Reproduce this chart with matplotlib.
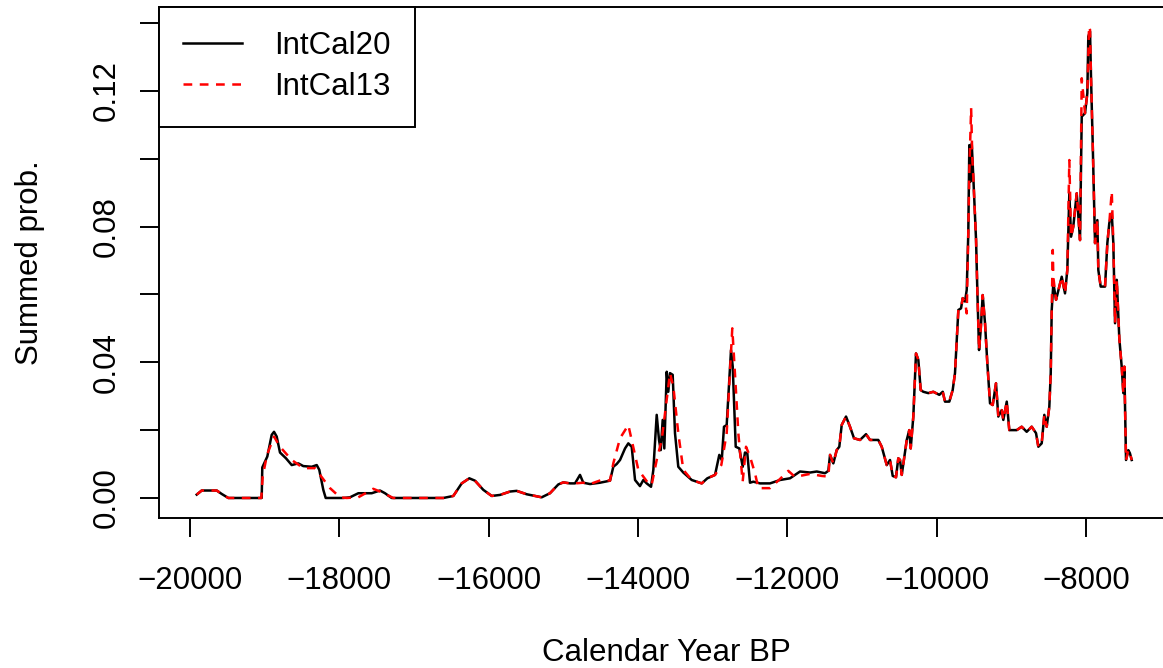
import matplotlib.pyplot as plt

# summed probability, IntCal20 calibration
year20 = [-19910, -19843, -19642, -19576, -19487, -19040, -19032, -18965, -18906, -18875,
          -18839, -18795, -18715, -18638, -18550, -18483, -18370, -18303, -18269, -18215,
          -18183, -17947, -17858, -17746, -17567, -17456, -17389, -17299, -16608, -16474,
          -16362, -16260, -16184, -16073, -15960, -15849, -15715, -15626, -15492, -15291,
          -15180, -15068, -15001, -14912, -14845, -14778, -14734, -14644, -14510, -14376,
          -14332, -14287, -14242, -14175, -14131, -14086, -14041, -13975, -13930, -13885,
          -13827, -13796, -13751, -13720, -13697, -13671, -13649, -13617, -13596, -13573,
          -13537, -13506, -13462, -13395, -13282, -13148, -13073, -12970, -12913, -12880,
          -12850, -12814, -12756, -12733, -12693, -12645, -12599, -12569, -12538, -12502,
          -12457, -12368, -12234, -12100, -11966, -11899, -11832, -11698, -11608, -11497,
          -11453, -11430, -11386, -11341, -11306, -11274, -11216, -11163, -11109, -11029,
          -10948, -10895, -10784, -10738, -10671, -10627, -10591, -10547, -10516, -10493,
          -10470, -10426, -10403, -10369, -10350, -10315, -10279, -10248, -10216, -10181,
          -10114, -10047, -9967, -9921, -9891, -9833, -9788, -9757, -9734, -9712,
          -9676, -9654, -9623, -9600, -9579, -9565, -9552, -9533, -9512, -9475,
          -9458, -9435, -9413, -9386, -9355, -9324, -9288, -9252, -9208, -9177,
          -9131, -9110, -9064, -9030, -8930, -8864, -8797, -8730, -8672, -8641,
          -8596, -8561, -8529, -8494, -8475, -8462, -8440, -8404, -8328, -8284,
          -8253, -8226, -8203, -8173, -8127, -8083, -8060, -8016, -7985, -7972,
          -7949, -7936, -7913, -7882, -7851, -7838, -7806, -7748, -7717, -7691,
          -7658, -7637, -7614, -7591, -7557, -7525, -7503, -7490, -7467, -7436,
          -7415, -7391]
prob20 = [0.0010, 0.0022, 0.0022, 0.0012, 0.0000, 0.0000, 0.0090, 0.0122, 0.0186, 0.0195,
          0.0181, 0.0134, 0.0117, 0.0097, 0.0102, 0.0094, 0.0092, 0.0097, 0.0083, 0.0024,
          0.0000, 0.0000, 0.0002, 0.0014, 0.0014, 0.0022, 0.0014, 0.0000, 0.0000, 0.0006,
          0.0043, 0.0058, 0.0051, 0.0024, 0.0006, 0.0009, 0.0019, 0.0021, 0.0011, 0.0002,
          0.0014, 0.0040, 0.0046, 0.0043, 0.0043, 0.0068, 0.0045, 0.0041, 0.0045, 0.0051,
          0.0092, 0.0100, 0.0112, 0.0146, 0.0161, 0.0151, 0.0053, 0.0035, 0.0053, 0.0043,
          0.0033, 0.0083, 0.0245, 0.0171, 0.0141, 0.0230, 0.0146, 0.0372, 0.0313, 0.0368,
          0.0363, 0.0191, 0.0092, 0.0075, 0.0053, 0.0043, 0.0058, 0.0068, 0.0127, 0.0112,
          0.0210, 0.0215, 0.0436, 0.0387, 0.0151, 0.0146, 0.0092, 0.0134, 0.0132, 0.0045,
          0.0048, 0.0043, 0.0043, 0.0053, 0.0058, 0.0068, 0.0078, 0.0075, 0.0078, 0.0073,
          0.0080, 0.0127, 0.0102, 0.0141, 0.0151, 0.0215, 0.0240, 0.0210, 0.0176, 0.0171,
          0.0188, 0.0171, 0.0171, 0.0151, 0.0097, 0.0112, 0.0065, 0.0061, 0.0117, 0.0112,
          0.0068, 0.0136, 0.0171, 0.0200, 0.0146, 0.0240, 0.0426, 0.0407, 0.0318, 0.0313,
          0.0309, 0.0313, 0.0304, 0.0313, 0.0284, 0.0284, 0.0318, 0.0368, 0.0466, 0.0554,
          0.0559, 0.0589, 0.0579, 0.0613, 0.0780, 0.1040, 0.0932, 0.1045, 0.0947, 0.0760,
          0.0613, 0.0436, 0.0495, 0.0598, 0.0515, 0.0397, 0.0279, 0.0274, 0.0338, 0.0240,
          0.0259, 0.0230, 0.0284, 0.0200, 0.0200, 0.0210, 0.0195, 0.0210, 0.0191, 0.0151,
          0.0161, 0.0245, 0.0210, 0.0269, 0.0368, 0.0554, 0.0633, 0.0584, 0.0652, 0.0603,
          0.0672, 0.0898, 0.0770, 0.0800, 0.0898, 0.0760, 0.1124, 0.1134, 0.1193, 0.1360,
          0.1375, 0.1242, 0.1045, 0.0751, 0.0819, 0.0672, 0.0623, 0.0623, 0.0751, 0.0810,
          0.0839, 0.0751, 0.0515, 0.0643, 0.0471, 0.0387, 0.0309, 0.0387, 0.0112, 0.0141,
          0.0132, 0.0112]

# summed probability, IntCal13 calibration
year13 = [-19910, -19843, -19642, -19576, -19487, -19045, -19027, -18969, -18875, -18795,
          -18638, -18483, -18326, -18259, -18125, -17991, -17902, -17746, -17546, -17456,
          -17278, -16608, -16474, -16362, -16260, -16184, -16073, -15960, -15849, -15715,
          -15626, -15492, -15291, -15180, -15068, -15001, -14912, -14845, -14734, -14644,
          -14466, -14376, -14332, -14242, -14131, -14086, -13997, -13863, -13819, -13751,
          -13684, -13617, -13573, -13528, -13462, -13395, -13282, -13148, -13073, -12970,
          -12886, -12814, -12739, -12693, -12658, -12600, -12555, -12502, -12435, -12390,
          -12234, -12100, -11989, -11899, -11698, -11542, -11453, -11430, -11386, -11341,
          -11306, -11274, -11216, -11163, -11109, -11029, -10948, -10895, -10784, -10738,
          -10671, -10627, -10591, -10547, -10516, -10493, -10470, -10426, -10403, -10369,
          -10350, -10315, -10279, -10248, -10216, -10181, -10114, -10047, -9967, -9921,
          -9891, -9833, -9788, -9757, -9734, -9712, -9676, -9654, -9623, -9600,
          -9579, -9565, -9541, -9525, -9512, -9475, -9458, -9435, -9413, -9386,
          -9355, -9324, -9288, -9252, -9208, -9177, -9131, -9110, -9064, -9030,
          -8930, -8864, -8797, -8730, -8672, -8641, -8596, -8561, -8529, -8494,
          -8475, -8462, -8448, -8440, -8404, -8328, -8284, -8253, -8226, -8203,
          -8173, -8127, -8083, -8060, -8016, -7985, -7962, -7949, -7936, -7913,
          -7882, -7851, -7838, -7806, -7748, -7717, -7691, -7658, -7637, -7614,
          -7591, -7557, -7525, -7503, -7490, -7467, -7436, -7415, -7391]
prob13 = [0.0010, 0.0022, 0.0022, 0.0012, 0.0000, 0.0000, 0.0063, 0.0127, 0.0181, 0.0151,
          0.0112, 0.0088, 0.0088, 0.0068, 0.0029, 0.0002, 0.0000, 0.0002, 0.0027, 0.0019,
          0.0000, 0.0000, 0.0006, 0.0043, 0.0058, 0.0051, 0.0024, 0.0006, 0.0009, 0.0019,
          0.0021, 0.0011, 0.0002, 0.0014, 0.0040, 0.0046, 0.0043, 0.0043, 0.0045, 0.0041,
          0.0055, 0.0051, 0.0102, 0.0176, 0.0215, 0.0171, 0.0083, 0.0043, 0.0038, 0.0112,
          0.0171, 0.0289, 0.0368, 0.0328, 0.0191, 0.0083, 0.0053, 0.0043, 0.0058, 0.0068,
          0.0097, 0.0191, 0.0500, 0.0328, 0.0191, 0.0048, 0.0151, 0.0122, 0.0073, 0.0029,
          0.0029, 0.0056, 0.0080, 0.0062, 0.0071, 0.0065, 0.0063, 0.0127, 0.0102, 0.0141,
          0.0151, 0.0215, 0.0240, 0.0210, 0.0176, 0.0171, 0.0188, 0.0171, 0.0171, 0.0151,
          0.0097, 0.0112, 0.0065, 0.0061, 0.0117, 0.0112, 0.0068, 0.0136, 0.0171, 0.0200,
          0.0146, 0.0240, 0.0426, 0.0407, 0.0318, 0.0313, 0.0309, 0.0313, 0.0304, 0.0313,
          0.0284, 0.0284, 0.0318, 0.0368, 0.0466, 0.0554, 0.0559, 0.0589, 0.0579, 0.0544,
          0.0780, 0.0960, 0.1149, 0.1000, 0.0947, 0.0760, 0.0613, 0.0436, 0.0495, 0.0598,
          0.0515, 0.0397, 0.0279, 0.0274, 0.0338, 0.0240, 0.0259, 0.0230, 0.0284, 0.0200,
          0.0200, 0.0210, 0.0195, 0.0210, 0.0191, 0.0151, 0.0161, 0.0245, 0.0210, 0.0269,
          0.0368, 0.0554, 0.0731, 0.0650, 0.0584, 0.0652, 0.0603, 0.0672, 0.0996, 0.0770,
          0.0800, 0.0898, 0.0760, 0.1237, 0.1134, 0.1193, 0.1390, 0.1380, 0.1242, 0.1045,
          0.0751, 0.0819, 0.0672, 0.0623, 0.0623, 0.0751, 0.0810, 0.0903, 0.0751, 0.0515,
          0.0643, 0.0471, 0.0387, 0.0309, 0.0387, 0.0112, 0.0141, 0.0132, 0.0112]

x_ticks = [-20000, -18000, -16000, -14000, -12000, -10000, -8000]
y_ticks = [0.00, 0.02, 0.04, 0.06, 0.08, 0.10, 0.12, 0.14]
y_labels = ["0.00", "", "0.04", "", "0.08", "", "0.12", ""]

plt.rcParams['font.family'] = ['Liberation Sans', 'DejaVu Sans']

fig = plt.figure(figsize=(11.63, 6.68), dpi=100)
ax = fig.add_axes([159 / 1163, 150 / 668, 1014 / 1163, 511 / 668])

ax.plot(year20, prob20, color="black", lw=1.8, label="IntCal20")
ax.plot(year13, prob13, color="red", lw=1.8, ls=(0, (3.5, 3)), label="IntCal13")

ax.set_xlim(-20415, -6838)
ax.set_ylim(-0.0059, 0.1447)

ax.set_xticks(x_ticks)
ax.set_yticks(y_ticks)
ax.set_yticklabels(y_labels, rotation=90, va="center")

ax.tick_params(length=13.7, width=1.4, labelsize=22.5, color="black")
ax.tick_params(axis="x", pad=21)
ax.tick_params(axis="y", pad=13)

for s in ax.spines.values():
    s.set_linewidth(1.4)

ax.set_xlabel("Calendar Year BP", fontsize=22.5, labelpad=30)
ax.set_ylabel("Summed prob.", fontsize=22.5, labelpad=34)

leg = ax.legend(loc="upper left", bbox_to_anchor=(0, 1), borderaxespad=0,
                fancybox=False, edgecolor="black", framealpha=1, fontsize=22.5,
                handlelength=1.86, handletextpad=1.05, borderpad=0.78,
                labelspacing=0.35)
leg.get_frame().set_linewidth(1.4)

fig.savefig("out.png", dpi=100)
plt.close(fig)
